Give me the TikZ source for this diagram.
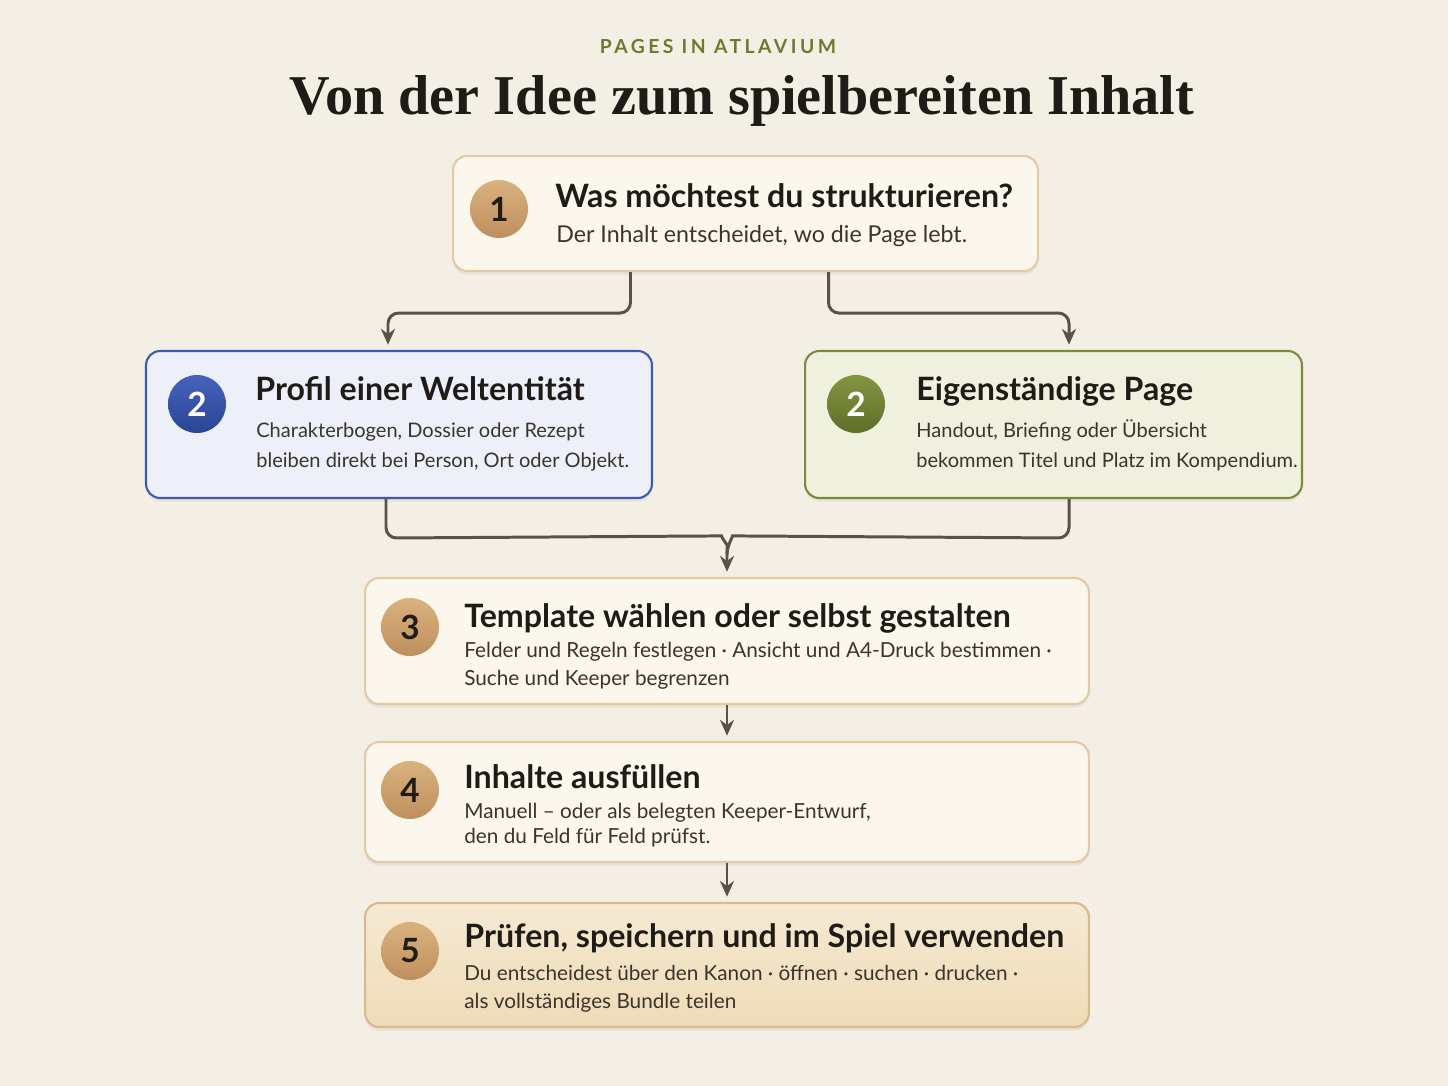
\documentclass[tikz,border=0pt]{standalone}
\usepackage{fontspec}
\setmainfont{Lato}
\newfontfamily\titlefont{Liberation Serif}
\usetikzlibrary{shadows,arrows.meta,calc}
\definecolor{paper}{HTML}{F4EFE4}
\definecolor{ink}{HTML}{1F1B16}
\definecolor{inkbody}{HTML}{3A342C}
\definecolor{linkc}{HTML}{5A5246}
\definecolor{olive}{HTML}{6E7A2C}
\definecolor{cream}{HTML}{FCF7EC}
\definecolor{tanline}{HTML}{E2CBA4}
\definecolor{tantop}{HTML}{D9B27E}
\definecolor{tanbot}{HTML}{BF8F5E}
\definecolor{blueline}{HTML}{3D5AAE}
\definecolor{bluefill}{HTML}{EDEFF9}
\definecolor{bluetop}{HTML}{4563BA}
\definecolor{bluebot}{HTML}{2A4594}
\definecolor{greenline}{HTML}{7B8B3C}
\definecolor{greenfill}{HTML}{EFF1DE}
\definecolor{greentop}{HTML}{849641}
\definecolor{greenbot}{HTML}{5F6E28}
\definecolor{goldline}{HTML}{D9B98A}
\definecolor{goldtop}{HTML}{F6EAD3}
\definecolor{goldbot}{HTML}{EFDBB7}
\tikzstyle{box}=[rectangle,rounded corners=8pt,draw=tanline,line width=1.2pt,
fill=cream,drop shadow={shadow xshift=0pt,shadow yshift=-2pt,opacity=.12}]
\tikzstyle{num}=[circle,minimum size=1.16cm,inner sep=0pt,font=\bfseries\fontsize{19}{19}\selectfont,
text=ink,top color=tantop,bottom color=tanbot]
\tikzstyle{head}=[anchor=base west,inner sep=0pt,text=ink,font=\bfseries\fontsize{18.3}{20}\selectfont]
\tikzstyle{body}=[anchor=base west,inner sep=0pt,text=inkbody,font=\fontsize{11.8}{14}\selectfont]
\tikzstyle{link}=[draw=linkc,line width=1.7pt,rounded corners=6pt]
\tikzstyle{arr}=[link,-{Stealth[length=9pt,width=8pt]},shorten >=3pt]
\begin{document}
\begin{tikzpicture}[x=0.02cm,y=-0.02cm]
  \fill[paper] (0,0) rectangle (1448,1086);
  \useasboundingbox (0,0) rectangle (1448,1086);
  % title
  \node[text=olive,font=\bfseries\fontsize{11}{11}\selectfont\addfontfeatures{LetterSpace=18}] (T0) at (718,47) {PAGES IN ATLAVIUM};
  \node[text=ink,font=\titlefont\bfseries\fontsize{32}{32}\selectfont] (T1) at (742,101) {Von der Idee zum spielbereiten Inhalt};

  % step 1
  \node[box,minimum width=11.7cm,minimum height=2.3cm] (B1) at (745.5,213.5) {};
  \node[num] (C1) at (499,209) {1};
  \node[head] (H1) at (555,207) {Was möchtest du strukturieren?};
  \node[body,font=\fontsize{13.2}{15}\selectfont] (L1) at (556,242) {Der Inhalt entscheidet, wo die Page lebt.};

  % step 2, two ways
  \node[box,draw=blueline,fill=bluefill,minimum width=10.12cm,minimum height=2.94cm] (B2L) at (399,424.5) {};
  \node[num,text=white,top color=bluetop,bottom color=bluebot] (C2L) at (197,404) {2};
  \node[head] (H2L) at (255,400) {Profil einer Weltentität};
  \node[body,font=\fontsize{11.4}{14}\selectfont] (L2La) at (256,437) {Charakterbogen, Dossier oder Rezept};
  \node[body,font=\fontsize{11.4}{14}\selectfont] (L2Lb) at (256,467) {bleiben direkt bei Person, Ort oder Objekt.};

  \node[box,draw=greenline,fill=greenfill,minimum width=9.94cm,minimum height=2.94cm] (B2R) at (1053.5,424.5) {};
  \node[num,text=white,top color=greentop,bottom color=greenbot] (C2R) at (856,404) {2};
  \node[head] (H2R) at (916,400) {Eigenständige Page};
  \node[body,font=\fontsize{11.4}{14}\selectfont] (L2Ra) at (916,437) {Handout, Briefing oder Übersicht};
  \node[body,font=\fontsize{11.4}{14}\selectfont] (L2Rb) at (916,467) {bekommen Titel und Platz im Kompendium.};

  % steps 3 to 5
  \node[box,minimum width=14.48cm,minimum height=2.52cm] (B3) at (727,641) {};
  \node[num] (C3) at (410,627) {3};
  \node[head] (H3) at (464,627) {Template wählen oder selbst gestalten};
  \node[body] (L3a) at (464,657) {Felder und Regeln festlegen · Ansicht und A4-Druck bestimmen ·};
  \node[body] (L3b) at (464,685) {Suche und Keeper begrenzen};

  \node[box,minimum width=14.48cm,minimum height=2.4cm] (B4) at (727,802) {};
  \node[num] (C4) at (410,790) {4};
  \node[head] (H4) at (464,788) {Inhalte ausfüllen};
  \node[body] (L4a) at (464,818) {Manuell – oder als belegten Keeper-Entwurf,};
  \node[body] (L4b) at (464,843) {den du Feld für Feld prüfst.};

  \node[box,draw=goldline,top color=goldtop,bottom color=goldbot,minimum width=14.48cm,minimum height=2.48cm] (B5) at (727,965) {};
  \node[num] (C5) at (410,951) {5};
  \node[head] (H5) at (464,947) {Prüfen, speichern und im Spiel verwenden};
  \node[body] (L5a) at (464,980) {Du entscheidest über den Kanon · öffnen · suchen · drucken ·};
  \node[body] (L5b) at (464,1008) {als vollständiges Bundle teilen};

  % connectors
  \draw[arr] ($(B1.south)+(-115,0)$) -- ++(0,41) -| ($(B2L.north)+(-11,0)$);
  \draw[arr] ($(B1.south)+(83,0)$) -- ++(0,41) -| ($(B2R.north)+(15.5,0)$);
  \draw[arr] ($(B2L.south)+(-13,0)$) -- ++(0,39) -- ($(B3.north)+(-16,-41)$)
      to[out=0,in=90] ($(B3.north)+(0,-22)$) -- (B3.north);
  \draw[link] ($(B2R.south)+(15.5,0)$) -- ++(0,39) -- ($(B3.north)+(16,-41)$)
      to[out=180,in=90] ($(B3.north)+(0,-22)$);
  \draw[arr] (B3.south) -- (B4.north);
  \draw[arr] (B4.south) -- (B5.north);
\end{tikzpicture}
\end{document}
